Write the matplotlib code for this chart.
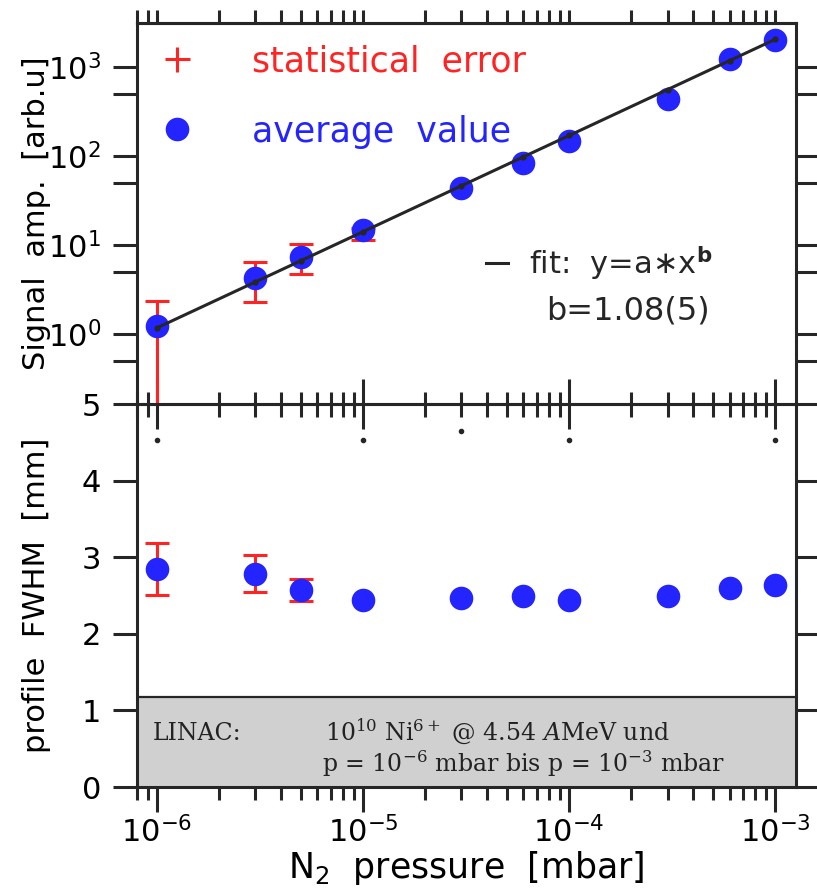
import matplotlib
matplotlib.use("Agg")
import matplotlib.pyplot as plt
import numpy as np
from matplotlib.lines import Line2D
from matplotlib.ticker import LogLocator, NullFormatter, FixedLocator

plt.rcParams['font.family'] = ['DejaVu Sans']
plt.rcParams['mathtext.fontset'] = 'dejavusans'

# data
pressure = [1e-6, 3e-6, 5e-6, 1e-5, 3e-5, 6e-5, 1e-4, 3e-4, 6e-4, 1e-3]
signal = [1.23, 4.26, 7.3, 14.7, 43.7, 83.7, 147, 438, 1230, 2000]
# error bars only on the first four points (lower / upper ends)
signal_lo = [0.1, 2.29, 4.72, 11.4]
signal_hi = [2.35, 6.45, 10.2, 15.5]

fwhm = [2.85, 2.78, 2.57, 2.44, 2.47, 2.49, 2.44, 2.49, 2.60, 2.64]
fwhm_lo = [2.51, 2.55, 2.43]
fwhm_hi = [3.19, 3.03, 2.72]

# fit y = a*x^b
fit_a = 3.53e6
fit_b = 1.08

# stray dots under the panel border
stray_x = [1e-6, 1e-5, 3e-5, 1e-4, 1e-3]
stray_y = [4.53, 4.53, 4.65, 4.53, 4.53]

blue = '#2424ff'
red = '#ff2424'
dark = '#262626'
lw = 2.2

fig = plt.figure(figsize=(8.17, 8.9), dpi=100)
ax1 = fig.add_axes([0.1677, 0.546, 0.8066, 0.4285])
ax2 = fig.add_axes([0.1677, 0.1157, 0.8066, 0.4303])
ax1.set_zorder(3)
ax1.patch.set_alpha(0)

xlim = (8.0e-7, 1.26e-3)

# ---- top panel
n = len(signal_lo)
yerr = [np.array(signal[:n]) - np.array(signal_lo), np.array(signal_hi) - np.array(signal[:n])]
ax1.errorbar(pressure[:n], signal[:n], yerr=yerr, fmt='none', ecolor=red,
             elinewidth=lw, capsize=8.5, capthick=lw, zorder=2)
ax1.plot(pressure, signal, 'o', color=blue, ms=17, mec='none', zorder=3)
px = np.array(pressure)
ax1.plot(px, fit_a * px ** fit_b, '-', color=dark, lw=lw, marker='o', ms=3.5, zorder=4)

ax1.set_xscale('log')
ax1.set_yscale('log')
ax1.set_xlim(*xlim)
ax1.set_ylim(0.163, 3120)
ax1.yaxis.set_major_locator(FixedLocator([1, 10, 100, 1000]))
ax1.yaxis.set_minor_locator(FixedLocator([0.5, 5, 50, 500]))
ax1.yaxis.set_minor_formatter(NullFormatter())
ax1.xaxis.set_major_locator(LogLocator(base=10, numticks=10))
ax1.xaxis.set_minor_locator(LogLocator(base=10, subs=np.arange(2, 10), numticks=20))
ax1.tick_params(axis='x', which='major', direction='inout', length=36, width=lw,
                color=dark, labelbottom=False)
ax1.tick_params(axis='x', which='minor', direction='inout', length=18, width=lw, color=dark)
ax1.tick_params(axis='y', which='both', direction='out', length=17, width=lw, color=dark,
                right=True, labelsize=22, pad=9)
sec = ax1.secondary_xaxis('top')
sec.xaxis.set_major_locator(LogLocator(base=10, numticks=10))
sec.xaxis.set_minor_locator(LogLocator(base=10, subs=np.arange(2, 10), numticks=20))
sec.xaxis.set_major_formatter(NullFormatter())
sec.xaxis.set_minor_formatter(NullFormatter())
sec.tick_params(which='both', direction='out', length=9.5, width=lw, color=dark)
sec.spines['top'].set_linewidth(lw)
sec.spines['top'].set_color(dark)
for s in ax1.spines.values():
    s.set_linewidth(lw)
    s.set_color(dark)
ax1.set_ylabel('Signal  amp.  [arb.u]', fontsize=22)
ax1.yaxis.set_label_coords(-0.13, 0.5)

h_err = Line2D([], [], color=red, marker='+', ls='none', ms=18, mew=lw)
h_avg = Line2D([], [], color=blue, marker='o', ls='none', ms=17, mec='none')
leg = ax1.legend([h_err, h_avg], ['statistical  error', 'average  value'],
                 loc='upper left', bbox_to_anchor=(0.035, 0.944), frameon=False,
                 fontsize=25, handlelength=1.0, handletextpad=1.65, labelspacing=1.05,
                 borderpad=0, borderaxespad=0, labelcolor=[red, blue])
ax1.add_artist(leg)
h_fit = Line2D([], [], color=dark, lw=lw)
ax1.legend([h_fit], ['fit:  y=a$\\ast$x$^\\mathbf{b}$'], loc='upper left',
           bbox_to_anchor=(0.53, 0.42), frameon=False, fontsize=22,
           handlelength=0.7, handletextpad=0.7, borderpad=0, borderaxespad=0,
           labelcolor=dark)
ax1.text(0.745, 0.245, 'b=1.08(5)', transform=ax1.transAxes, fontsize=23,
         color=dark, ha='center', va='center')

# ---- bottom panel
m = len(fwhm_lo)
ferr = [np.array(fwhm[:m]) - np.array(fwhm_lo), np.array(fwhm_hi) - np.array(fwhm[:m])]
ax2.errorbar(pressure[:m], fwhm[:m], yerr=ferr, fmt='none', ecolor=red,
             elinewidth=lw, capsize=8.5, capthick=lw, zorder=2)
ax2.plot(pressure, fwhm, 'o', color=blue, ms=17, mec='none', zorder=3)
ax2.plot(stray_x, stray_y, 'o', color=dark, ms=3, zorder=3)

ax2.axhspan(0, 1.18, color='#d0d0d0', zorder=1)
ax2.axhline(1.18, color=dark, lw=1.6, zorder=1.5)
ax2.text(0.024, 0.123, 'LINAC:', transform=ax2.transAxes, fontsize=17,
         family='DejaVu Serif', color='#222222', va='baseline')
ax2.text(0.285, 0.123, '$10^{10}$ Ni$^{6+}$ @ 4.54 $\\mathit{A}$MeV und',
         transform=ax2.transAxes, fontsize=17, family='DejaVu Serif',
         math_fontfamily='dejavuserif', color='#222222', va='baseline')
ax2.text(0.28, 0.039, 'p = $10^{-6}$ mbar bis p = $10^{-3}$ mbar',
         transform=ax2.transAxes, fontsize=17, family='DejaVu Serif',
         math_fontfamily='dejavuserif', color='#222222', va='baseline')

ax2.set_xscale('log')
ax2.set_xlim(*xlim)
ax2.set_ylim(0, 5)
ax2.set_yticks([0, 1, 2, 3, 4, 5])
ax2.xaxis.set_major_locator(LogLocator(base=10, numticks=10))
ax2.xaxis.set_minor_locator(LogLocator(base=10, subs=np.arange(2, 10), numticks=20))
ax2.xaxis.set_minor_formatter(NullFormatter())
ax2.tick_params(axis='x', which='major', direction='out', length=18, width=lw,
                color=dark, labelsize=22, pad=3, top=False)
ax2.tick_params(axis='x', which='minor', direction='out', length=9, width=lw,
                color=dark, top=False)
ax2.tick_params(axis='y', which='both', direction='out', length=17, width=lw, color=dark,
                right=True, labelsize=22, pad=9)
for s in ax2.spines.values():
    s.set_linewidth(lw)
    s.set_color(dark)
ax2.set_ylabel('profile  FWHM  [mm]', fontsize=22)
ax2.yaxis.set_label_coords(-0.13, 0.5)
ax2.set_xlabel('N$_2$  pressure  [mbar]', fontsize=25, labelpad=0)

fig.savefig('out.png', dpi=100)
